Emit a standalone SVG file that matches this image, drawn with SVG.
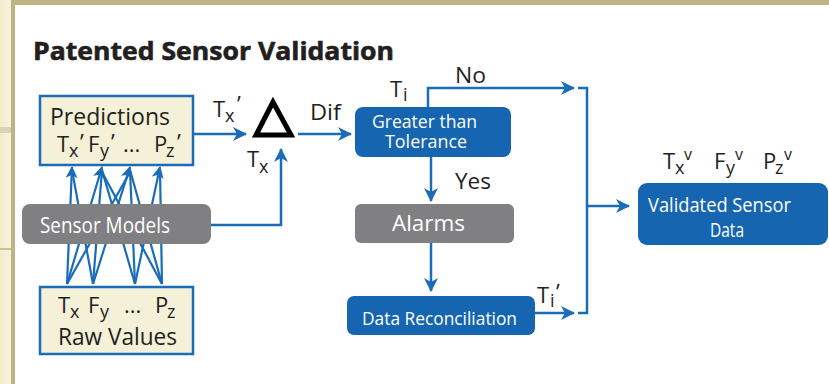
<svg xmlns="http://www.w3.org/2000/svg" width="829" height="384" viewBox="0 0 829 384">
<defs>
  <marker id="ah" markerUnits="userSpaceOnUse" markerWidth="14" markerHeight="14" refX="13" refY="7" orient="auto">
    <path d="M0,0 L14,7 L0,14 L4,7 Z" fill="#1a6cb8"/>
  </marker>
  <marker id="ahs" markerUnits="userSpaceOnUse" markerWidth="12" markerHeight="12" refX="11" refY="6" orient="auto">
    <path d="M0,0 L12,6 L0,12 L3,6 Z" fill="#1a6cb8"/>
  </marker>
  <linearGradient id="strip" x1="0" y1="0" x2="1" y2="0">
    <stop offset="0" stop-color="#f3ebc9"/>
    <stop offset="1" stop-color="#f8f3de"/>
  </linearGradient>
</defs>
<style>
  .t { font-family: "Open Sans", "Liberation Sans", sans-serif; fill: #231f20; }
  .w { font-family: "Open Sans", "Liberation Sans", sans-serif; fill: #ffffff; }
  .bx { fill: #f4f1d8; stroke: #1a6cb8; stroke-width: 2.5; }
  .bl { fill: #1565b1; }
  .gr { fill: #808082; }
  .c { fill: none; stroke: #1a6cb8; stroke-width: 2.5; }
  .m { fill: none; stroke: #1a6cb8; stroke-width: 2.2; }
</style>

<!-- background -->
<rect x="0" y="0" width="829" height="384" fill="#ffffff"/>
<rect x="0" y="0" width="12" height="384" fill="url(#strip)"/>
<rect x="0" y="127" width="12" height="6" fill="#d8d2b8"/>
<rect x="0" y="248" width="12" height="2" fill="#c9c08f"/>
<rect x="11" y="0" width="818" height="5" fill="#bdb486"/>
<rect x="11" y="0" width="4" height="384" fill="#bdb486"/>

<text class="t" x="33" y="60" font-size="25" font-weight="bold" textLength="361" lengthAdjust="spacingAndGlyphs" stroke="#231f20" stroke-width="0.6">Patented Sensor Validation</text>

<!-- connectors -->
<g id="connectors">
  <line class="m" x1="67" y1="284" x2="72" y2="167" marker-end="url(#ahs)"/>
  <line class="m" x1="67" y1="284" x2="102" y2="167" marker-end="url(#ahs)"/>
  <line class="m" x1="93" y1="284" x2="130" y2="167" marker-end="url(#ahs)"/>
  <line class="m" x1="135" y1="284" x2="160" y2="167" marker-end="url(#ahs)"/>
  <line class="m" x1="93" y1="284" x2="72" y2="170"/>
  <line class="m" x1="93" y1="284" x2="102" y2="170"/>
  <line class="m" x1="135" y1="284" x2="102" y2="170"/>
  <line class="m" x1="135" y1="284" x2="130" y2="170"/>
  <line class="m" x1="162" y1="284" x2="130" y2="170"/>
  <line class="m" x1="162" y1="284" x2="160" y2="170"/>
  <line class="m" x1="67" y1="284" x2="130" y2="172"/>
  <line class="m" x1="162" y1="284" x2="102" y2="172"/>

  <line class="c" x1="193" y1="134" x2="246" y2="134" marker-end="url(#ah)"/>
  <line class="c" x1="298" y1="134" x2="351" y2="134" marker-end="url(#ah)"/>
  <path class="c" d="M211,225 H281 V149" marker-end="url(#ah)"/>
  <path class="c" d="M428,107 V88 H574" marker-end="url(#ah)"/>
  <path class="c" d="M431,157 V201" marker-end="url(#ah)"/>
  <path class="c" d="M431,243 V291" marker-end="url(#ah)"/>
  <path class="c" d="M535,313 H574" marker-end="url(#ah)"/>
  <path class="c" d="M578,88 H587 V313 H578"/>
  <path class="c" d="M587,206 H629" marker-end="url(#ah)"/>
</g>

<!-- nodes -->
<g id="predictions">
  <rect class="bx" x="40" y="96" width="153" height="69"/>
  <text class="t" x="50" y="125" font-size="23" textLength="120" lengthAdjust="spacingAndGlyphs">Predictions</text>
  <text class="t" font-size="22">
    <tspan x="57" y="152">T</tspan><tspan x="69" y="157" font-size="18">x</tspan><tspan x="80" y="150">’</tspan>
    <tspan x="88" y="152">F</tspan><tspan x="100" y="157" font-size="18">y</tspan><tspan x="111" y="150">’</tspan>
    <tspan x="123" y="152">...</tspan>
    <tspan x="154" y="152">P</tspan><tspan x="166" y="157" font-size="18">z</tspan><tspan x="177" y="150">’</tspan>
  </text>
</g>

<g id="raw-values">
  <rect class="bx" x="40" y="287" width="153" height="67"/>
  <text class="t" font-size="22">
    <tspan x="58" y="313">T</tspan><tspan x="70" y="318" font-size="18">x</tspan>
    <tspan x="88" y="313">F</tspan><tspan x="100" y="318" font-size="18">y</tspan>
    <tspan x="124" y="313">...</tspan>
    <tspan x="155" y="313">P</tspan><tspan x="167" y="318" font-size="18">z</tspan>
  </text>
  <text class="t" x="58" y="345" font-size="23" textLength="119" lengthAdjust="spacingAndGlyphs">Raw Values</text>
</g>

<g id="sensor-models">
  <rect class="gr" x="22" y="204" width="189" height="40" rx="8"/>
  <text class="w" x="40" y="233" font-size="21" textLength="130" lengthAdjust="spacingAndGlyphs">Sensor Models</text>
</g>

<g id="delta">
  <polygon points="273,102 256,135 291,135" fill="none" stroke="#000000" stroke-width="5" stroke-linejoin="miter"/>
  <text class="t" font-size="22"><tspan x="213" y="117">T</tspan><tspan x="225" y="122" font-size="18">x</tspan><tspan x="237" y="112">’</tspan></text>
  <text class="t" font-size="22"><tspan x="247" y="167">T</tspan><tspan x="259" y="173" font-size="18">x</tspan></text>
  <text class="t" x="310" y="120" font-size="22" textLength="31" lengthAdjust="spacingAndGlyphs">Dif</text>
</g>

<g id="greater-than-tolerance">
  <rect class="bl" x="355" y="107" width="156" height="50" rx="8"/>
  <text class="w" x="372" y="128" font-size="19" textLength="105" lengthAdjust="spacingAndGlyphs">Greater than</text>
  <text class="w" x="385" y="148" font-size="19" textLength="82" lengthAdjust="spacingAndGlyphs">Tolerance</text>
  <text class="t" font-size="22"><tspan x="390" y="97">T</tspan><tspan x="403" y="101" font-size="18">i</tspan></text>
  <text class="t" x="455" y="83" font-size="22" textLength="31" lengthAdjust="spacingAndGlyphs">No</text>
  <text class="t" x="455" y="189" font-size="22" textLength="36" lengthAdjust="spacingAndGlyphs">Yes</text>
</g>

<g id="alarms">
  <rect class="gr" x="355" y="204" width="159" height="39" rx="6"/>
  <text class="w" x="392" y="231" font-size="22" textLength="73" lengthAdjust="spacingAndGlyphs">Alarms</text>
</g>

<g id="data-reconciliation">
  <rect class="bl" x="347" y="296" width="188" height="39" rx="7"/>
  <text class="w" x="362" y="325" font-size="18" textLength="155" lengthAdjust="spacingAndGlyphs">Data Reconciliation</text>
  <text class="t" font-size="22"><tspan x="537" y="303">T</tspan><tspan x="550" y="307" font-size="18">i</tspan><tspan x="556" y="300">’</tspan></text>
</g>

<g id="validated-sensor-data">
  <rect class="bl" x="638" y="183" width="190" height="62" rx="9"/>
  <text class="w" x="648" y="212" font-size="20" textLength="143" lengthAdjust="spacingAndGlyphs">Validated Sensor</text>
  <text class="w" x="710" y="237" font-size="20" textLength="34" lengthAdjust="spacingAndGlyphs">Data</text>
  <text class="t" font-size="22">
    <tspan x="663" y="169">T</tspan><tspan x="675" y="174" font-size="18">x</tspan><tspan x="684" y="160" font-size="16">v</tspan>
    <tspan x="714" y="169">F</tspan><tspan x="726" y="174" font-size="18">y</tspan><tspan x="735" y="160" font-size="16">v</tspan>
    <tspan x="763" y="169">P</tspan><tspan x="775" y="174" font-size="18">z</tspan><tspan x="784" y="160" font-size="16">v</tspan>
  </text>
</g>
</svg>
